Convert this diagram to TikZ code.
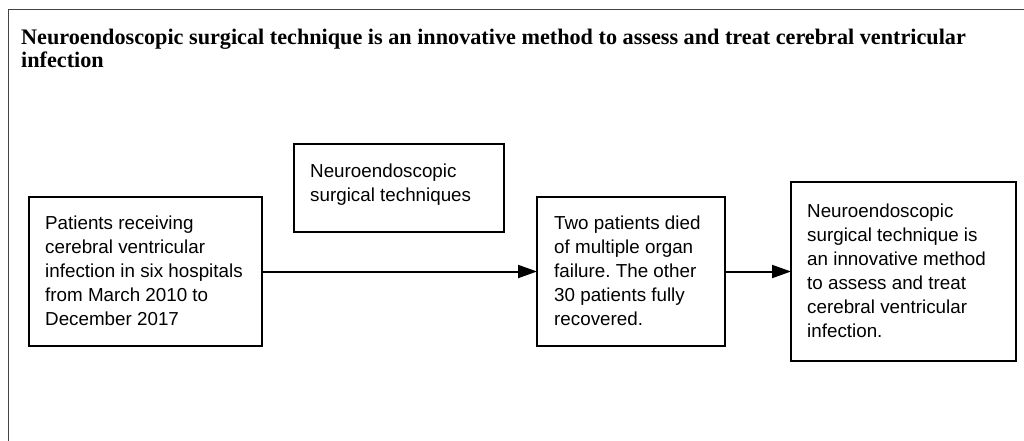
\documentclass[tikz,border=0pt]{standalone}
\usepackage{fontspec}
\setmainfont{Liberation Serif}
\setsansfont{Liberation Sans}
\usetikzlibrary{arrows.meta}
\definecolor{framegray}{HTML}{444444}
\begin{document}
\frenchspacing
\begin{tikzpicture}[x=1pt,y=-1pt,
  boxshape/.style={draw=black, line width=2pt, rectangle, inner sep=0pt, anchor=north west},
  boxtext/.style={anchor=west, align=left, inner sep=0pt, font=\sffamily\fontsize{18.8}{24}\selectfont},
  conn/.style={draw=black, line width=2pt, -{Triangle[length=19pt,width=13pt]}, shorten >=-1pt}
]
\useasboundingbox (0,0) rectangle (1024,441);
% outer frame (cropped at right and bottom)
\draw[framegray, line width=1.4pt] (8.7,450) -- (8.7,9.7) -- (1030,9.7);
% title
\node[anchor=base west, inner sep=0pt, align=left, font=\bfseries\fontsize{22.2}{23}\selectfont] (title) at (21,68)
  {Neuroendoscopic surgical technique is an innovative method to assess and treat cerebral ventricular\\infection};
% boxes
\node[boxshape, minimum width=233pt, minimum height=149pt] (b1) at (28,196) {};
\node[boxshape, minimum width=210pt, minimum height=88pt] (b2) at (293,143) {};
\node[boxshape, minimum width=188pt, minimum height=149pt] (b3) at (536,196) {};
\node[boxshape, minimum width=225pt, minimum height=179pt] (b4) at (790,181) {};
% texts
\node[boxtext] (t1) at ([xshift=17pt,yshift=1pt]b1.west) {Patients receiving\\cerebral ventricular\\infection in six hospitals\\from March 2010 to\\December 2017};
\node[boxtext] (t2) at ([xshift=17pt,yshift=3pt]b2.west) {Neuroendoscopic\\surgical techniques};
\node[boxtext] (t3) at ([xshift=18pt,yshift=1pt]b3.west) {Two patients died\\of multiple organ\\failure. The other\\30 patients fully\\recovered.};
\node[boxtext] (t4) at ([xshift=17pt,yshift=1pt]b4.west) {Neuroendoscopic\\surgical technique is\\an innovative method\\to assess and treat\\cerebral ventricular\\infection.};
% connectors
\draw[conn] (b1.east) -- (b3.west);
\draw[conn] (b3.east) -- (b3.east -| b4.west);
\end{tikzpicture}
\end{document}
